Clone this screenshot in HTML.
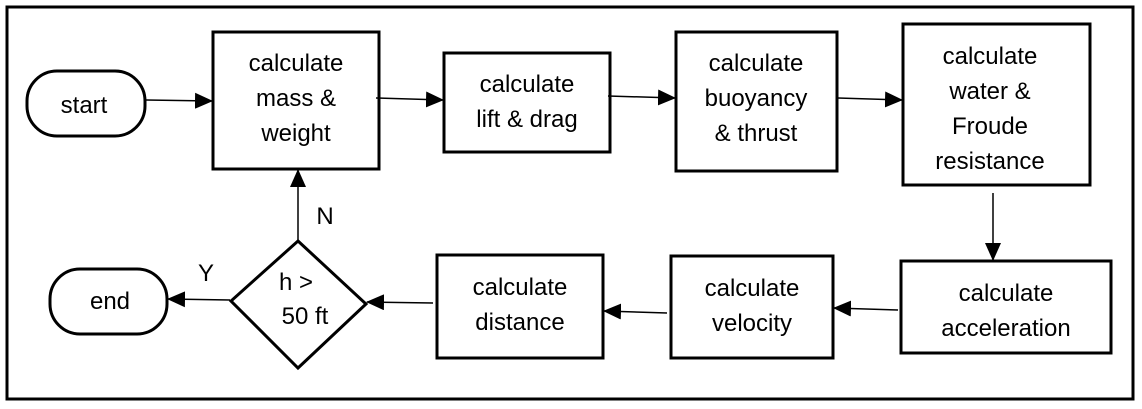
<!DOCTYPE html>
<html><head><meta charset="utf-8"><style>
html,body{margin:0;padding:0;background:#fff;}
svg{display:block;}
text{font-family:"Liberation Sans",sans-serif;font-size:24px;fill:#000;text-anchor:middle;}
</style></head><body>
<svg width="1142" height="409" viewBox="0 0 1142 409" xmlns="http://www.w3.org/2000/svg">
<defs><marker id="a" markerWidth="18" markerHeight="16" refX="17" refY="8" orient="auto" markerUnits="userSpaceOnUse"><path d="M0,0 L18,8 L0,16 Z" fill="#000"/></marker></defs>
<rect x="7" y="7" width="1126" height="392" fill="none" stroke="#000" stroke-width="3"/>
<g fill="none" stroke="#000" stroke-width="3">
<rect x="27" y="71" width="118" height="65" rx="30"/>
<rect x="50" y="269" width="117" height="65" rx="30"/>
<rect x="213" y="32" width="166" height="137"/>
<rect x="444" y="53" width="166" height="99"/>
<rect x="676" y="32" width="161" height="139"/>
<rect x="903" y="24" width="187" height="161"/>
<rect x="901" y="261" width="210" height="92"/>
<rect x="671" y="256" width="162" height="102"/>
<rect x="437" y="255" width="166" height="103"/>
<path d="M298,241 L366,304 L298,368 L231,301 Z"/>
</g>
<g stroke="#000" stroke-width="1.5" marker-end="url(#a)">
<line x1="146" y1="100" x2="212" y2="101"/>
<line x1="376" y1="98" x2="443" y2="100"/>
<line x1="608" y1="96" x2="675" y2="98"/>
<line x1="838" y1="98" x2="902" y2="100"/>
<line x1="993" y1="193" x2="993" y2="260"/>
<line x1="898" y1="310" x2="834" y2="308"/>
<line x1="667" y1="313" x2="604" y2="311"/>
<line x1="433" y1="303" x2="367" y2="302"/>
<line x1="230" y1="300" x2="168" y2="299"/>
<line x1="298" y1="241" x2="298" y2="170"/>
</g>
<text x="84" y="113">start</text>
<text x="110" y="309">end</text>
<text x="296" y="71">calculate</text>
<text x="296" y="106">mass &amp;</text>
<text x="296" y="141">weight</text>
<text x="527" y="92">calculate</text>
<text x="527" y="127">lift &amp; drag</text>
<text x="756" y="71">calculate</text>
<text x="756" y="106">buoyancy</text>
<text x="756" y="141">&amp; thrust</text>
<text x="990" y="64">calculate</text>
<text x="990" y="99">water  &amp;</text>
<text x="990" y="134">Froude</text>
<text x="990" y="169">resistance</text>
<text x="1006" y="301">calculate</text>
<text x="1006" y="336">acceleration</text>
<text x="752" y="296">calculate</text>
<text x="752" y="331">velocity</text>
<text x="520" y="295">calculate</text>
<text x="520" y="330">distance</text>
<text x="296" y="290">h &gt;</text>
<text x="305" y="324">50 ft</text>
<text x="325" y="224">N</text>
<text x="206" y="281">Y</text>
</svg>
</body></html>
